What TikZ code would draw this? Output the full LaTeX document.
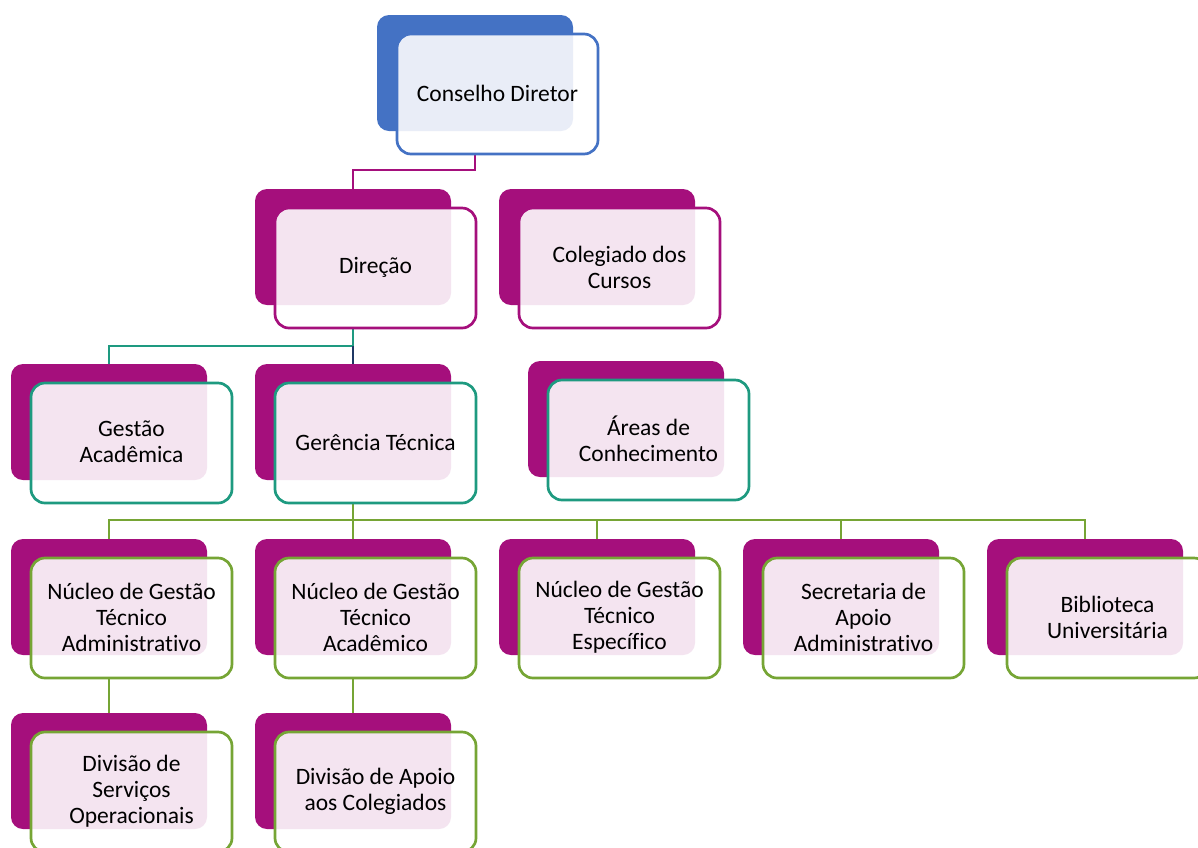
\documentclass[tikz,border=0pt]{standalone}
\usepackage{fontspec}
\setmainfont{Carlito}[Ligatures=NoCommon]
\usetikzlibrary{calc,backgrounds}
\definecolor{mag}{HTML}{A50F7C}
\definecolor{pinkfill}{HTML}{F4E4F0}
\definecolor{bluec}{HTML}{4472C4}
\definecolor{bluefill}{HTML}{E9EDF7}
\definecolor{tealc}{HTML}{1E9A80}
\definecolor{navyc}{HTML}{1F3864}
\definecolor{greenc}{HTML}{76A535}
\tikzset{
  backbox/.style={rectangle, rounded corners=12pt, minimum width=196pt, minimum height=116pt, inner sep=0pt, outer sep=0pt, draw=none},
  frontbox/.style={rectangle, minimum width=201pt, minimum height=120pt, inner sep=0pt, outer sep=0pt, draw=none, fill=none},
  labeltext/.style={align=center, font=\fontsize{23.5pt}{26pt}\selectfont, text=black},
  conn/.style={line width=2.9pt},
}
% #1 name, #2 x, #3 y, #4 back colour, #5 overlap fill, #6 border colour, #7 text
\newcommand\orgunit[7]{%
  \node[backbox, fill=#4, anchor=north west] (#1) at (#2,#3) {};
  \node[frontbox, anchor=north west] (#1f) at ($(#1.north west)+(20,19)$) {};
  \fill[white, rounded corners=14pt] (#1f.north west) rectangle (#1f.south east);
  \begin{scope}
    \clip[rounded corners=12pt] (#1.north west) rectangle (#1.south east);
    \fill[#5, rounded corners=14pt] (#1f.north west) rectangle (#1f.south east);
  \end{scope}
  \draw[#6, line width=2.7pt, rounded corners=14pt] (#1f.north west) rectangle (#1f.south east);
  \node[labeltext] (#1t) at ($(#1f.center)+(0,-1)$) {#7};
}
\begin{document}
\begin{tikzpicture}[x=1pt, y=-1pt]
\useasboundingbox (0,0) rectangle (1198,847);
\orgunit{cd}{377}{15}{bluec}{bluefill}{bluec}{Conselho Diretor}
\orgunit{dir}{255}{189}{mag}{pinkfill}{mag}{Direção}
\orgunit{col}{499}{189}{mag}{pinkfill}{mag}{Colegiado dos\\Cursos}
\orgunit{ga}{11}{364}{mag}{pinkfill}{tealc}{Gestão\\Acadêmica}
\orgunit{gt}{255}{364}{mag}{pinkfill}{tealc}{Gerência Técnica}
\orgunit{ac}{528}{361}{mag}{pinkfill}{tealc}{Áreas de\\Conhecimento}
\orgunit{na}{11}{539}{mag}{pinkfill}{greenc}{Núcleo de Gestão\\Técnico\\Administrativo}
\orgunit{nb}{255}{539}{mag}{pinkfill}{greenc}{Núcleo de Gestão\\Técnico\\Acadêmico}
\orgunit{nc}{499}{539}{mag}{pinkfill}{greenc}{Núcleo de Gestão\\Técnico\\Específico}
\orgunit{sa}{743}{539}{mag}{pinkfill}{greenc}{Secretaria de\\Apoio\\Administrativo}
\orgunit{bu}{987}{539}{mag}{pinkfill}{greenc}{Biblioteca\\Universitária}
\orgunit{dso}{11}{713}{mag}{pinkfill}{greenc}{Divisão de\\Serviços\\Operacionais}
\orgunit{dac}{255}{713}{mag}{pinkfill}{greenc}{Divisão de Apoio\\aos Colegiados}
\begin{pgfonlayer}{background}
  \coordinate (j1) at (475,170);
  \coordinate (j2) at (353,346);
  \coordinate (j3) at (353,520);
  \draw[conn, mag] (cd.south) -- (j1) -| (dir.north);
  \draw[conn, tealc] (dir.south) -- (j2) -| (ga.north);
  \draw[conn, navyc] (j2) -- (gt.north);
  \draw[conn, greenc] (gt.south) -- (j3);
  \draw[conn, greenc] (j3) -| (na.north);
  \draw[conn, greenc] (j3) -| (nb.north);
  \draw[conn, greenc] (j3) -| (nc.north);
  \draw[conn, greenc] (j3) -| (sa.north);
  \draw[conn, greenc] (j3) -| (bu.north);
  \draw[conn, greenc] (na.south) -- (dso.north);
  \draw[conn, greenc] (nb.south) -- (dac.north);
\end{pgfonlayer}
\end{tikzpicture}
\end{document}
